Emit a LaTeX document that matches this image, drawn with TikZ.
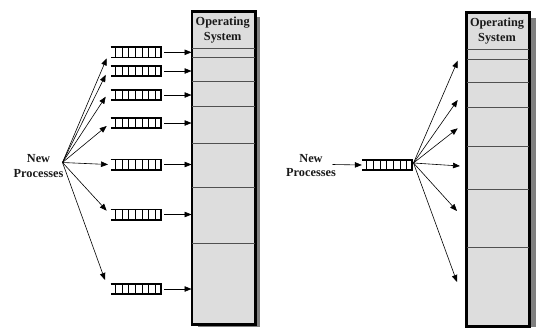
\documentclass[tikz,border=0pt]{standalone}
\usepackage{fontspec}
\setmainfont{Liberation Serif}
\usetikzlibrary{arrows.meta}
\definecolor{boxgray}{HTML}{DDDDDD}
\definecolor{shadowgray}{HTML}{808080}
\definecolor{partline}{HTML}{505050}
\begin{document}
\begin{tikzpicture}[x=1pt,y=-1pt,
  arr/.style={-{Triangle[length=7pt,width=5.5pt]}, line width=0.6pt},
  osbox/.style={fill=boxgray, draw=black, line width=1.8pt, inner sep=0, anchor=north west},
  shadowbox/.style={fill=shadowgray, draw=none},
  part/.style={draw=partline, line width=0.8pt},
  lbl/.style={font=\fontsize{12.3}{14.5}\selectfont\bfseries, align=center, inner sep=0, text=black!90},
  qnode/.style={minimum width=50pt, minimum height=10pt, inner sep=0, draw=none},
  qline/.style={line width=1.6pt, line join=miter},
  qdiv/.style={line width=0.6pt}
]
\useasboundingbox (0,0) rectangle (536,327);

% ---------- left diagram ----------
\fill[shadowbox] (197.5,17) rectangle (260,327);
\node[osbox, minimum width=62.5pt, minimum height=312pt] (os1) at (191.5,11) {};
\foreach \yy in {48,57,81,106,143,187,243}
  \draw[part] (os1.west |- 0,\yy) -- (os1.east |- 0,\yy);
\draw[line width=1.8pt] (os1.north west) rectangle (os1.south east);
\node[lbl] (h1) at (222.7,30) {Operating\\System};

\node[lbl] (np1) at (38.5,166) {New\\Processes};
\coordinate (f1) at (62.5,162.5);

\node[qnode] (q1) at (135.7,52.3) {};
\node[qnode] (q2) at (135.7,71) {};
\node[qnode] (q3) at (135.7,95) {};
\node[qnode] (q4) at (135.7,123) {};
\node[qnode] (q5) at (135.7,164.5) {};
\node[qnode] (q6) at (135.7,214.5) {};
\node[qnode] (q7) at (135.7,289) {};

\coordinate (t1) at (106.7,58.3);
\coordinate (t2) at (105.7,74.8);
\coordinate (t3) at (105.7,96.7);
\coordinate (t4) at (106.7,126);
\coordinate (t5) at (108,164.5);
\coordinate (t6) at (106.7,210.7);
\coordinate (t7) at (105,280);

\foreach \t in {t1,t2,t3,t4,t5,t6,t7}
  \draw[arr] (f1) -- (\t);

\foreach \q in {q1,q2,q3,q4,q5,q6,q7} {
  \draw[qline] (\q.north west) -- (\q.north east) -- (\q.south east) -- (\q.south west);
  \foreach \k in {0,...,6}
    \draw[qdiv] ([xshift={4.6pt+\k*6.7pt}]\q.north west) -- ([xshift={4.6pt+\k*6.7pt}]\q.south west);
  \draw[arr, shorten <=3.3pt] (\q.east) -- (\q.east -| os1.west);
}

% ---------- right diagram ----------
\fill[shadowbox] (472,18) rectangle (536,327);
\node[osbox, minimum width=62.6pt, minimum height=313pt] (os2) at (465.7,12) {};
\foreach \yy in {49.3,59.3,82.7,107.7,146,189,247}
  \draw[part] (os2.west |- 0,\yy) -- (os2.east |- 0,\yy);
\draw[line width=1.8pt] (os2.north west) rectangle (os2.south east);
\node[lbl] (h2) at (497,31) {Operating\\System};

\node[lbl] (np2) at (311,165.5) {New\\Processes};
\coordinate (s2) at (332.5,164.5);

\node[qnode] (qr) at (387,165) {};
\draw[qline] (qr.north west) -- (qr.north east) -- (qr.south east) -- (qr.south west);
\foreach \k in {0,...,6}
  \draw[qdiv] ([xshift={4.6pt+\k*6.7pt}]qr.north west) -- ([xshift={4.6pt+\k*6.7pt}]qr.south west);
\draw[arr] (s2) -- (qr.west);

\coordinate (f2) at (413.5,163);
\coordinate (u1) at (457.7,60.7);
\coordinate (u2) at (457.7,100);
\coordinate (u3) at (457.7,128.3);
\coordinate (u4) at (460,166);
\coordinate (u5) at (457,211);
\coordinate (u6) at (457,282);
\foreach \t in {u1,u2,u3,u4,u5,u6}
  \draw[arr] (f2) -- (\t);
\end{tikzpicture}
\end{document}
